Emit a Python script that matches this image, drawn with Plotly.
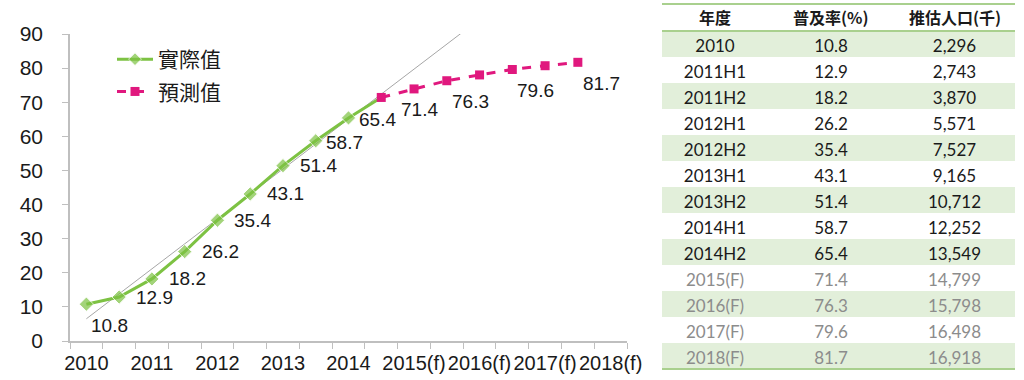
import numpy as np
import plotly.graph_objects as go

# ---------------- chart data ----------------
x_tick_labels = ["2010", "2011", "2012", "2013", "2014", "2015(f)", "2016(f)", "2017(f)", "2018(f)"]
actual_values = [10.8, 12.9, 18.2, 26.2, 35.4, 43.1, 51.4, 58.7, 65.4]
forecast_values = [71.4, 73.9, 76.3, 78.0, 79.6, 80.7, 81.7]
series_names = ["實際值", "預測值"]

# ---------------- table data ----------------
table_header = ["年度", "普及率(%)", "推估人口(千)"]
table_periods = ["2010", "2011H1", "2011H2", "2012H1", "2012H2", "2013H1", "2013H2",
                 "2014H1", "2014H2", "2015(F)", "2016(F)", "2017(F)", "2018(F)"]
table_rates = [10.8, 12.9, 18.2, 26.2, 35.4, 43.1, 51.4, 58.7, 65.4, 71.4, 76.3, 79.6, 81.7]
table_population = [2296, 2743, 3870, 5571, 7527, 9165, 10712, 12252, 13549,
                    14799, 15798, 16498, 16918]

# ---------------- styles ----------------
W, H = 1024, 380
GREEN = "#7DC243"
MAGENTA = "#E0187E"
AXIS_GRAY = "#BFBFBF"
TEXT = "#1A1A1A"
TBL_GREEN = "#E2EFDA"
TBL_LINE = "#A9D08E"
FONT = "Liberation Sans"
CJK = "Noto Sans CJK TC"

n_slots = 2 * len(x_tick_labels) - 1
n_act = len(actual_values)
act_x = list(range(n_act + 1))                      # green line runs into first forecast point
act_y = actual_values + [forecast_values[0]]
fc_x = list(range(n_act, n_act + len(forecast_values)))

fig = go.Figure()

# linear trend of the actual values
coef = np.polyfit(np.arange(n_act), np.array(actual_values), 1)
tx = np.array([0, n_slots - 1])
fig.add_trace(go.Scatter(x=tx, y=np.polyval(coef, tx), mode="lines",
                         line=dict(color="#A6A6A6", width=1), showlegend=False,
                         hoverinfo="skip"))

fig.add_trace(go.Scatter(x=act_x, y=act_y, name=series_names[0], mode="lines+markers",
                         line=dict(color=GREEN, width=3),
                         marker=dict(symbol="diamond", size=[11] * n_act + [0], color=GREEN),
                         legendgroup="a"))
fig.add_trace(go.Scatter(x=fc_x, y=forecast_values, name=series_names[1], mode="lines+markers",
                         line=dict(color=MAGENTA, width=3, dash="dash"),
                         marker=dict(symbol="square", size=9, color=MAGENTA),
                         legendgroup="b"))

# data labels
offsets = {"right": (15, 0), "near": (8, -2), "below": (3, -21), "belowright": (18, -12)}
act_styles = ["below"] + ["right"] * 6 + ["near", "near"]
labels = [(x, v, s) for x, v, s in zip(range(n_act), actual_values, act_styles)]
fc_labeled = [i for i, v in enumerate(forecast_values) if v in table_rates]
for k, i in enumerate(fc_labeled):
    labels.append((fc_x[i], forecast_values[i], "belowright" if k == 0 else "below"))
for x, v, s in labels:
    dx, dy = offsets[s]
    fig.add_annotation(x=x, y=v, text=f"{v:.1f}", showarrow=False, xanchor="left",
                       yanchor="middle", xshift=dx, yshift=dy,
                       font=dict(family=FONT, size=19, color=TEXT))

fig.update_xaxes(domain=[70 / W, 627 / W], range=[-0.5, n_slots - 0.5],
                 tickmode="array", tickvals=list(range(0, n_slots, 2)), ticktext=x_tick_labels,
                 ticks="", showline=True, linecolor=AXIS_GRAY, linewidth=1.5,
                 showgrid=False, zeroline=False, automargin=False, tickangle=0,
                 minor=dict(ticks="outside", tick0=-0.5, dtick=1, ticklen=6,
                            tickcolor=AXIS_GRAY, showgrid=False),
                 tickfont=dict(family=FONT, size=20, color=TEXT), ticklabelstandoff=3)
fig.update_yaxes(domain=[1 - 341 / H, 1 - 34 / H], range=[0, 90], dtick=10,
                 ticks="outside", ticklen=6, tickcolor=AXIS_GRAY,
                 showline=True, linecolor=AXIS_GRAY, linewidth=1.5,
                 showgrid=False, zeroline=False, automargin=False,
                 tickfont=dict(family=FONT, size=21, color=TEXT), ticklabelstandoff=15)

# ---------------- table ----------------
n_rows = len(table_periods)
n_actual_rows = len(actual_values)
row_fill = [TBL_GREEN if r % 2 == 0 else "white" for r in range(n_rows)]
row_font = [TEXT if r < n_actual_rows else "#8C8C8C" for r in range(n_rows)]
col_w = [106, 126, 121]
tbl_left_px, tbl_top_px, head_h, row_h = 662, 4, 27, 26
tbl_right_px = tbl_left_px + sum(col_w)
tbl_left, tbl_right = tbl_left_px / W, tbl_right_px / W
fig.add_trace(go.Table(
    domain=dict(x=[tbl_left, tbl_right], y=[0, 1 - tbl_top_px / H]),
    columnwidth=col_w,
    header=dict(values=[""] * len(table_header), height=head_h,
                fill_color="white", line=dict(color="white", width=0)),
    cells=dict(values=[table_periods, [f"{v:.1f}" for v in table_rates],
                       [f"{v:,}" for v in table_population]],
               height=row_h, align="center",
               fill_color=[row_fill] * 3, line=dict(color=[row_fill] * 3, width=0),
               font=dict(family="Lato", size=17, color=[row_font] * 3)),
))
# header texts
cx = tbl_left_px
for h, w in zip(table_header, col_w):
    fig.add_annotation(xref="paper", yref="paper", x=(cx + w / 2) / W,
                       y=1 - (tbl_top_px + head_h / 2) / H, text=f"<b>{h}</b>",
                       showarrow=False, xanchor="center", yanchor="middle",
                       font=dict(family=CJK, size=16, color=TEXT))
    cx += w
for y_px in [tbl_top_px, tbl_top_px + head_h, tbl_top_px + head_h + n_rows * row_h]:
    fig.add_shape(type="line", xref="paper", yref="paper", x0=tbl_left, x1=tbl_right,
                  y0=1 - y_px / H, y1=1 - y_px / H, line=dict(color=TBL_LINE, width=2))

fig.update_layout(
    width=W, height=H, margin=dict(l=0, r=0, t=0, b=0),
    paper_bgcolor="white", plot_bgcolor="white",
    legend=dict(x=112 / W, y=1 - 39 / H, xanchor="left", yanchor="top",
                font=dict(family=CJK, size=21, color=TEXT), bgcolor="rgba(0,0,0,0)",
                traceorder="grouped", tracegroupgap=2, itemwidth=36),
)

fig.write_html("out.html", config={"displayModeBar": False},
               post_script="document.body.style.margin='0';")
